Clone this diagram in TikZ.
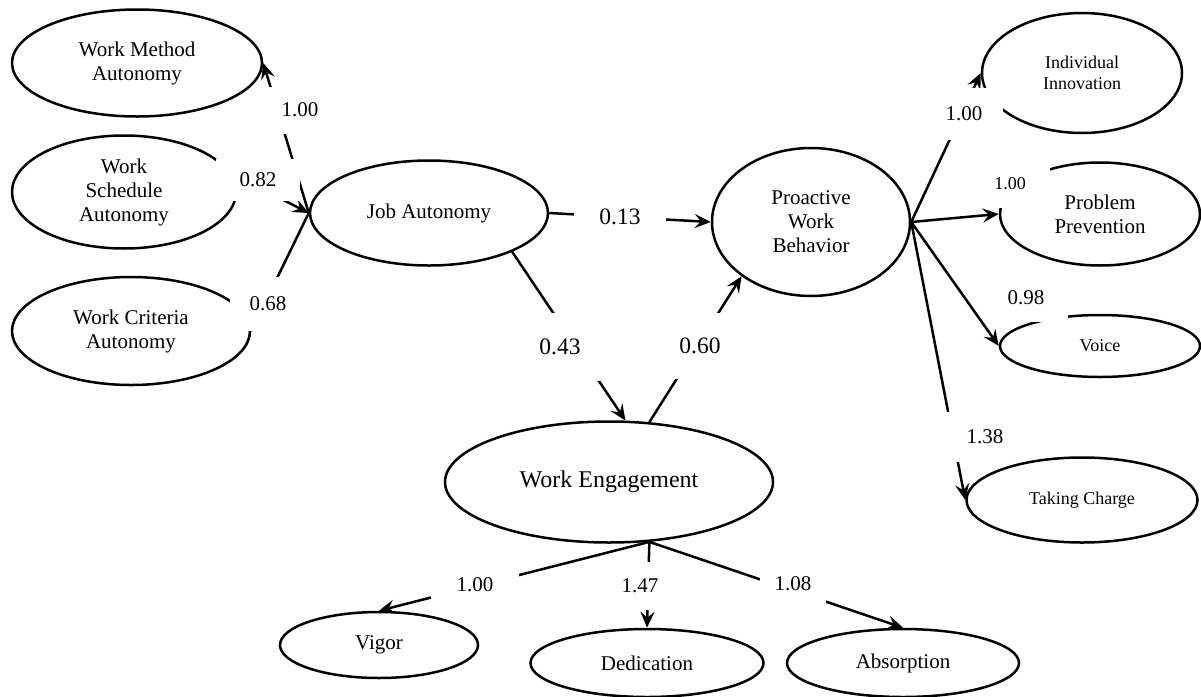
\documentclass[tikz,border=0pt]{standalone}
\usepackage{fontspec}
\setmainfont{Liberation Serif}
\usetikzlibrary{shapes.geometric,arrows.meta}

\begin{document}
\begin{tikzpicture}[x=0.5pt,y=-0.5pt,
		lat/.style={ellipse,draw,line width=1.25pt,inner sep=0pt,align=center,font=\fontsize{10.5}{12}\selectfont},
		sm/.style={font=\fontsize{9}{10.3}\selectfont},
		lg/.style={font=\fontsize{12}{14}\selectfont},
		conn/.style={line width=1.25pt,-{Stealth[length=8pt,width=7pt,inset=3pt]}},
		coef/.style={fill=white,inner sep=0pt,font=\fontsize{10.5}{12}\selectfont},
		bigcoef/.style={coef,font=\fontsize{11.75}{14}\selectfont}]
		\useasboundingbox (0,0) rectangle (1201,697);
		\node[lat,minimum width=125pt,minimum height=53.5pt] (wma) at (137,63) {Work Method\\Autonomy};
		\node[lat,minimum width=112pt,minimum height=56.5pt] (wsa) at (124,192) {Work\\Schedule\\Autonomy};
		\node[lat,minimum width=119pt,minimum height=54pt] (wca) at (131,331) {Work Criteria\\Autonomy};
		\node[lat,minimum width=119pt,minimum height=52.5pt] (ja) at (429,213) {Job Autonomy};
		\node[lat,minimum width=99pt,minimum height=74pt] (pwb) at (811,222) {Proactive\\Work\\Behavior};
		\node[lat,sm,minimum width=100pt,minimum height=60pt] (ii) at (1082,73) {Individual\\Innovation};
		\node[lat,minimum width=100pt,minimum height=51.5pt] (pp) at (1100,214) {Problem\\Prevention};
		\node[lat,sm,minimum width=100pt,minimum height=31pt] (voice) at (1100,346) {Voice};
		\node[lat,sm,minimum width=115.5pt,minimum height=42.5pt] (tc) at (1082,500) {Taking Charge};
		\node[lat,lg,minimum width=164pt,minimum height=60.5pt] (we) at (609,482) {Work Engagement};
		\node[lat,minimum width=99pt,minimum height=33pt] (vig) at (379,645) {Vigor};
		\node[lat,minimum width=116.5pt,minimum height=34pt] (ded) at (647,663) {Dedication};
		\node[lat,minimum width=116pt,minimum height=34pt] (abs) at (903,663) {Absorption};

		\draw[conn] (ja.west) -- (wma.east);
		\draw[conn] (wsa.10) -- (ja.west);
		\draw[line width=1.25pt] (wca.east) -- (ja.west);
		\draw[conn] (ja.east) -- (pwb.west);
		\draw[conn] (ja.-25) -- (we.75);
		\draw[conn] (we.56) -- (pwb.218);
		\draw[conn] (pwb.east) -- (ii.west);
		\draw[conn] (pwb.east) -- (pp.west);
		\draw[conn] (pwb.east) -- (voice.west);
		\draw[conn] (pwb.east) -- (tc.west);
		\draw[conn] (we.-56) -- (vig.north);
		\draw[conn] (we.-56) -- (ded.north);
		\draw[conn] (we.-56) -- (abs.north);

		\node[coef,minimum width=33pt,minimum height=23.5pt] (c1) at (300,110) {1.00};
		\node[coef,minimum width=42pt,minimum height=21pt] (c2) at (258,180) {0.82};
		\node[coef,minimum width=38pt,minimum height=27pt] (c3) at (268,304) {0.68};
		\node[bigcoef,minimum width=46pt,minimum height=15pt] (c4) at (620,217) {0.13};
		\node[bigcoef,minimum width=45pt,minimum height=34pt] (c5) at (560,347) {0.43};
		\node[bigcoef,minimum width=32pt,minimum height=33pt] (c6) at (700,346) {0.60};
		\node[coef,minimum width=39pt,minimum height=26pt] (c7) at (964,114) {1.00};
		\node[coef,sm,minimum width=40pt,minimum height=24pt] (c8) at (1010,184) {1.00};
		\node[coef,minimum width=42pt,minimum height=24pt] (c9) at (1026,298) {0.98};
		\node[coef,minimum width=40pt,minimum height=25pt] (c10) at (985,437) {1.38};
		\node[coef,minimum width=44pt,minimum height=18pt] (c11) at (475,585) {1.00};
		\node[coef,minimum width=30pt,minimum height=24pt] (c12) at (640,586) {1.47};
		\node[coef,minimum width=33pt,minimum height=23pt] (c13) at (793,584) {1.08};
	\end{tikzpicture}
\end{document}
